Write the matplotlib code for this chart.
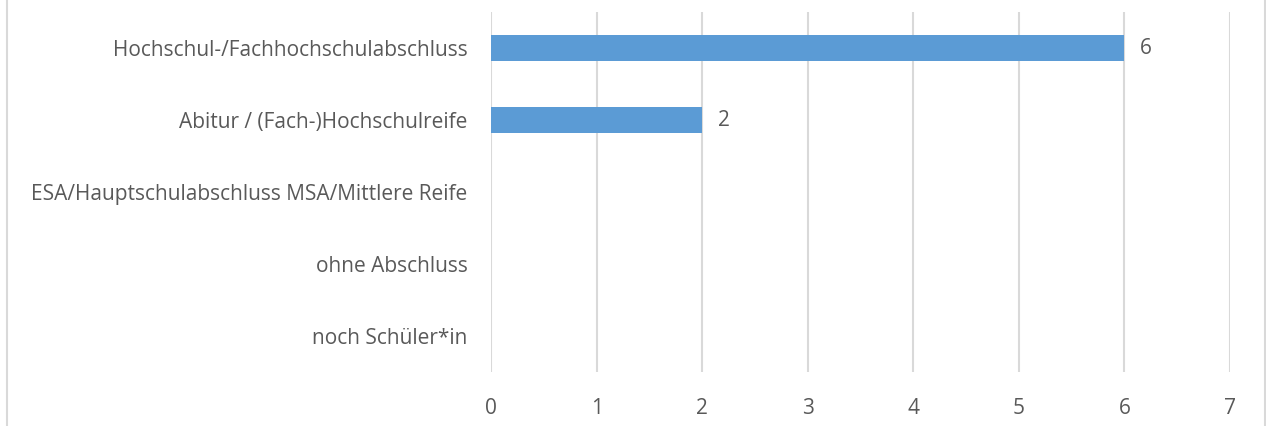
import matplotlib.pyplot as plt
from matplotlib.lines import Line2D

categories = ["Hochschul-/Fachhochschulabschluss", "Abitur / (Fach-)Hochschulreife",
              "ESA/Hauptschulabschluss MSA/Mittlere Reife", "ohne Abschluss", "noch Schüler*in"]
values = [6, 2, 0, 0, 0]
xticks = [0, 1, 2, 3, 4, 5, 6, 7]

plt.rcParams['font.family'] = ['Open Sans', 'DejaVu Sans']
text_color = "#595959"
bar_color = "#5B9BD5"

fig = plt.figure(figsize=(12.66, 4.26), dpi=100)
ax = fig.add_axes([491 / 1266, 1 - 372 / 426, (1230 - 491) / 1266, 360 / 426])

pos = list(range(len(categories)))
ax.barh(pos, values, height=0.36, color=bar_color, zorder=3)
for p, v in zip(pos, values):
    if v > 0:
        ax.text(v + 0.15, p, str(v), va="center", ha="left", fontsize=15, color=text_color)

ax.set_ylim(len(categories) - 0.5, -0.5)
ax.set_xlim(0, 7)
ax.set_xticks(xticks)
ax.set_yticks(pos)
ax.set_yticklabels(categories)
ax.tick_params(axis="both", length=0, labelsize=15, colors=text_color)
ax.tick_params(axis="y", pad=17)
ax.tick_params(axis="x", pad=19)
ax.grid(axis="x", color="#D9D9D9", linewidth=1.5, zorder=0)
for s in ax.spines.values():
    s.set_visible(False)

# chart frame
fig.add_artist(Line2D([7 / 1266, 7 / 1266], [0, 1], color="#D9D9D9", linewidth=1.5))
fig.add_artist(Line2D([1264.5 / 1266, 1264.5 / 1266], [0, 1], color="#D9D9D9", linewidth=1.5))

plt.savefig("out.png", dpi=100)
plt.close()
